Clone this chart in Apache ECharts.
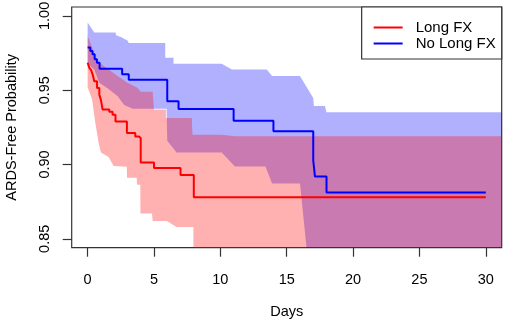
<!DOCTYPE html>
<html>
<head>
<meta charset="utf-8">
<script src="https://cdn.jsdelivr.net/npm/echarts@6/dist/echarts.min.js"></script>
<style>
  html, body { margin: 0; padding: 0; background: #fff; }
  #chart { width: 505px; height: 322px; }
</style>
</head>
<body>
<div id="chart"></div>
<script>
// tick labels
const xTicks = [0, 5, 10, 15, 20, 25, 30];
const yTicks = [0.85, 0.90, 0.95, 1.00];

// Kaplan-Meier curves, [day, probability], value holds from that day on
const longFx = [
  [0, 0.9685], [0.13, 0.965], [0.26, 0.9635], [0.38, 0.9605], [0.5, 0.956],
  [0.71, 0.9515], [0.88, 0.947], [1.0, 0.9435], [1.13, 0.937], [1.63, 0.9355],
  [1.88, 0.9335], [2.1, 0.929], [2.96, 0.9212], [3.59, 0.9189], [3.84, 0.9178],
  [4.0, 0.9014], [5.0, 0.8976], [7.0, 0.893], [8.0, 0.878], [30, 0.878]
];
const noLongFx = [
  [0, 0.9788], [0.2, 0.9764], [0.37, 0.9742], [0.53, 0.9708], [0.7, 0.9685],
  [0.9, 0.9645], [2.6, 0.9608], [3.1, 0.957], [6.0, 0.9426], [6.85, 0.9374],
  [11.0, 0.9295], [14.0, 0.9223], [17.0, 0.9027], [17.13, 0.8919], [18.0, 0.8811],
  [30, 0.8811]
];

// confidence band edges, [day, probability]
const longFxUpper = [
  [0, 0.9865], [0.3, 0.980], [0.6, 0.972], [0.88, 0.9685], [2.26, 0.9595],
  [3.0, 0.955], [3.76, 0.9516], [4.0, 0.949], [4.9, 0.949], [5.0, 0.937],
  [5.9, 0.937], [5.9, 0.9313], [7.85, 0.9313], [7.9, 0.920], [10.1, 0.920],
  [11.1, 0.919], [31.2, 0.919]
];
const longFxLower = [
  [0, 0.952], [0.33, 0.944], [0.58, 0.928], [0.83, 0.9145], [1.0, 0.908],
  [1.58, 0.905], [1.96, 0.899], [2.95, 0.8985], [2.97, 0.891], [3.7, 0.891],
  [3.72, 0.8863], [3.97, 0.8863], [3.98, 0.867], [4.85, 0.867], [4.9, 0.862],
  [5.97, 0.862], [6.7, 0.858], [7.97, 0.858], [7.98, 0.80], [31.2, 0.80]
];
const noLongFxUpper = [
  [0, 0.9955], [0.5, 0.9888], [2.1, 0.9888], [2.15, 0.987], [2.5, 0.9858],
  [3.0, 0.9835], [3.1, 0.9818], [5.85, 0.9818], [5.85, 0.9719], [6.47, 0.9719],
  [6.47, 0.9678], [10.1, 0.9678], [10.87, 0.964], [13.5, 0.964], [13.9, 0.9595],
  [16.0, 0.9595], [17.0, 0.9448], [17.05, 0.9393], [17.88, 0.9393], [18.0, 0.9351],
  [31.2, 0.9351]
];
const noLongFxLower = [
  [0, 0.968], [0.5, 0.964], [0.88, 0.955], [1.63, 0.9505], [2.26, 0.946],
  [2.76, 0.940], [3.39, 0.9376], [5.95, 0.9376], [6.0, 0.9159], [6.7, 0.908],
  [10.1, 0.908], [11.1, 0.8986], [13.4, 0.8986], [13.9, 0.8872], [16.0, 0.8872],
  [17.0, 0.80], [31.2, 0.80]
];

const font = "'Liberation Sans', Arial, sans-serif";
const chart = echarts.init(document.getElementById("chart"));

const band = (name, upper, lower, fill) => ({
  name: name,
  type: "custom",
  clip: true,
  silent: true,
  data: [[0, 0.9]],
  encode: { x: 0, y: 1 },
  renderItem: (params, api) => {
    const pts = upper.concat(lower.slice().reverse()).map((p) => api.coord(p));
    return { type: "polygon", shape: { points: pts }, style: { fill: fill } };
  },
});

const curve = (name, data, color) => ({
  name: name,
  type: "line",
  step: "end",
  showSymbol: false,
  data: data,
  itemStyle: { color: color },
  lineStyle: { color: color, width: 2 },
});

chart.setOption({
  animation: false,
  textStyle: { fontFamily: font },
  grid: {
    left: 71.7, right: 3.3, top: 7, bottom: 74.3,
    outerBoundsMode: "none",
    containLabel: false,
    show: true, borderColor: "#333", borderWidth: 1.2, backgroundColor: "transparent",
  },
  legend: {
    data: ["Long FX", "No Long FX"],
    orient: "vertical",
    right: 3.3,
    top: 7,
    padding: [13, 6, 8, 12],
    itemWidth: 29,
    itemHeight: 2,
    itemGap: 1,
    icon: "rect",
    selectedMode: false,
    backgroundColor: "#fff",
    borderColor: "#333",
    borderWidth: 1.2,
    textStyle: { fontSize: 15, lineHeight: 15, color: "#000", fontFamily: font, padding: [0, 0, 0, 8] },
  },
  xAxis: {
    type: "value",
    min: -1.2,
    max: 31.2,
    name: "Days",
    nameLocation: "middle",
    nameGap: 57,
    nameTextStyle: { fontSize: 14.5, color: "#000", fontFamily: font },
    axisLine: { show: false, onZero: false },
    splitLine: { show: false },
    axisTick: { show: true, length: 9, customValues: xTicks, lineStyle: { color: "#333", width: 1.2 } },
    axisLabel: { customValues: xTicks, margin: 25, fontSize: 14.5, color: "#000", fontFamily: font },
  },
  yAxis: {
    type: "value",
    min: 0.844,
    max: 1.006,
    name: "ARDS-Free Probability",
    nameLocation: "middle",
    nameGap: 52,
    nameTextStyle: { fontSize: 14.5, color: "#000", fontFamily: font },
    axisLine: { show: false, onZero: false },
    splitLine: { show: false },
    axisTick: { show: true, length: 9, customValues: yTicks, lineStyle: { color: "#333", width: 1.2 } },
    axisLabel: {
      customValues: yTicks, rotate: 90, margin: 19, fontSize: 14.5, color: "#000", fontFamily: font,
      formatter: (v) => v.toFixed(2),
    },
  },
  series: [
    band("noLongFxBand", noLongFxUpper, noLongFxLower, "rgba(0,0,255,0.31)"),
    curve("No Long FX", noLongFx, "#0000ff"),
    band("longFxBand", longFxUpper, longFxLower, "rgba(255,0,0,0.31)"),
    curve("Long FX", longFx, "#ff0000"),
  ],
});
</script>
</body>
</html>
